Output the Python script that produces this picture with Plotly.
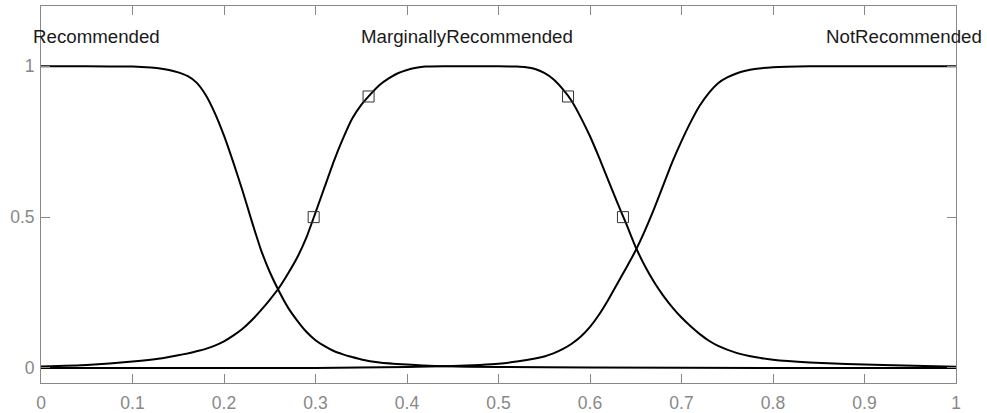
import plotly.graph_objects as go

# Membership curves
rec_x = [0.0, 0.05, 0.10, 0.11, 0.12, 0.13, 0.14, 0.15, 0.16, 0.17, 0.18, 0.19, 0.20,
         0.21, 0.22, 0.23, 0.24, 0.25, 0.26, 0.27, 0.28, 0.29, 0.30, 0.31, 0.32, 0.33,
         0.34, 0.35, 0.37, 0.40, 0.43, 0.50, 0.60, 0.80, 1.0]
rec_y = [1.0, 1.0, 0.999, 0.998, 0.996, 0.993, 0.988, 0.980, 0.968, 0.946, 0.905, 0.845,
         0.770, 0.683, 0.590, 0.490, 0.395, 0.318, 0.255, 0.200, 0.157, 0.120, 0.092,
         0.072, 0.056, 0.045, 0.036, 0.028, 0.018, 0.011, 0.006, 0.003, 0.001, 0.0, 0.0]

mar_x = [0.0, 0.05, 0.10, 0.13, 0.15, 0.16, 0.17, 0.18, 0.19, 0.20, 0.21, 0.22, 0.23,
         0.24, 0.25, 0.26, 0.27, 0.28, 0.29, 0.30, 0.31, 0.32, 0.33, 0.34, 0.35, 0.36,
         0.37, 0.38, 0.39, 0.40, 0.41, 0.42, 0.44, 0.50, 0.52, 0.53, 0.54, 0.55, 0.56,
         0.57, 0.58, 0.59, 0.60, 0.61, 0.62, 0.63, 0.64, 0.65, 0.66, 0.67, 0.68, 0.69,
         0.70, 0.71, 0.72, 0.73, 0.74, 0.76, 0.78, 0.80, 0.84, 0.88, 0.92, 1.0]
mar_y = [0.005, 0.010, 0.021, 0.031, 0.042, 0.048, 0.055, 0.063, 0.074, 0.088, 0.107,
         0.129, 0.157, 0.190, 0.226, 0.265, 0.313, 0.366, 0.432, 0.515, 0.600, 0.685,
         0.760, 0.826, 0.872, 0.907, 0.938, 0.960, 0.977, 0.988, 0.995, 0.999, 1.0, 1.0,
         0.999, 0.997, 0.991, 0.978, 0.957, 0.925, 0.885, 0.830, 0.768, 0.697, 0.622,
         0.547, 0.475, 0.400, 0.338, 0.285, 0.240, 0.201, 0.167, 0.138, 0.112, 0.090,
         0.073, 0.050, 0.036, 0.027, 0.018, 0.013, 0.010, 0.004]

nr_x = [0.0, 0.30, 0.40, 0.45, 0.48, 0.50, 0.52, 0.54, 0.55, 0.56, 0.57, 0.58, 0.59,
        0.60, 0.61, 0.62, 0.63, 0.64, 0.65, 0.66, 0.67, 0.68, 0.69, 0.70, 0.71, 0.72,
        0.73, 0.74, 0.75, 0.76, 0.77, 0.78, 0.80, 0.84, 1.0]
nr_y = [0.0, 0.0, 0.003, 0.006, 0.010, 0.014, 0.021, 0.031, 0.038, 0.048, 0.062, 0.080,
        0.104, 0.136, 0.177, 0.226, 0.280, 0.334, 0.390, 0.455, 0.527, 0.605, 0.683,
        0.752, 0.815, 0.870, 0.912, 0.944, 0.963, 0.976, 0.985, 0.991, 0.997, 1.0, 1.0]

mk_x = [0.298, 0.358, 0.576, 0.636]
mk_y = [0.5, 0.9, 0.9, 0.5]

labels = ["Recommended", "MarginallyRecommended", "NotRecommended"]
label_x = [-0.011, 0.466, 1.031]
label_anchor = ["left", "center", "right"]
label_y = 1.1

x_ticks = [0, 0.1, 0.2, 0.3, 0.4, 0.5, 0.6, 0.7, 0.8, 0.9, 1]
x_tick_text = ["0", "0.1", "0.2", "0.3", "0.4", "0.5", "0.6", "0.7", "0.8", "0.9", "1"]
y_ticks = [0, 0.5, 1]
y_tick_text = ["0", "0.5", "1"]

fig = go.Figure()
for xs, ys in [(rec_x, rec_y), (mar_x, mar_y), (nr_x, nr_y)]:
    fig.add_trace(go.Scatter(x=xs, y=ys, mode="lines",
                             line=dict(color="black", width=2, shape="spline", smoothing=0.5),
                             showlegend=False, hoverinfo="skip"))
fig.add_trace(go.Scatter(x=mk_x, y=mk_y, mode="markers",
                         marker=dict(symbol="square-open", size=11, color="#333333",
                                     line=dict(width=1, color="#333333")),
                         showlegend=False, hoverinfo="skip"))

for t, xv, a in zip(labels, label_x, label_anchor):
    fig.add_annotation(x=xv, xref="paper", y=label_y, yref="y", text=t, xanchor=a,
                       yanchor="middle", showarrow=False,
                       font=dict(size=18.7, color="#1a1a1a"))

axis_common = dict(showline=True, linecolor="#888888", linewidth=1, mirror="ticks",
                   ticks="inside", ticklen=9, tickcolor="#888888", tickwidth=1,
                   showgrid=False, zeroline=False, automargin=False,
                   tickfont=dict(size=17.5, color="#888888"))

fig.update_xaxes(range=[0, 1], tickvals=x_ticks, ticktext=x_tick_text,
                 ticklabelstandoff=4, **axis_common)
fig.update_yaxes(range=[-0.05, 1.2], tickvals=y_ticks, ticktext=y_tick_text,
                 ticklabelstandoff=2, **axis_common)

fig.update_layout(width=987, height=413,
                  margin=dict(l=41, r=31, t=6, b=30),
                  paper_bgcolor="white", plot_bgcolor="white",
                  font=dict(family="Liberation Sans, Arial, sans-serif"))

fig.write_html("out.html")
